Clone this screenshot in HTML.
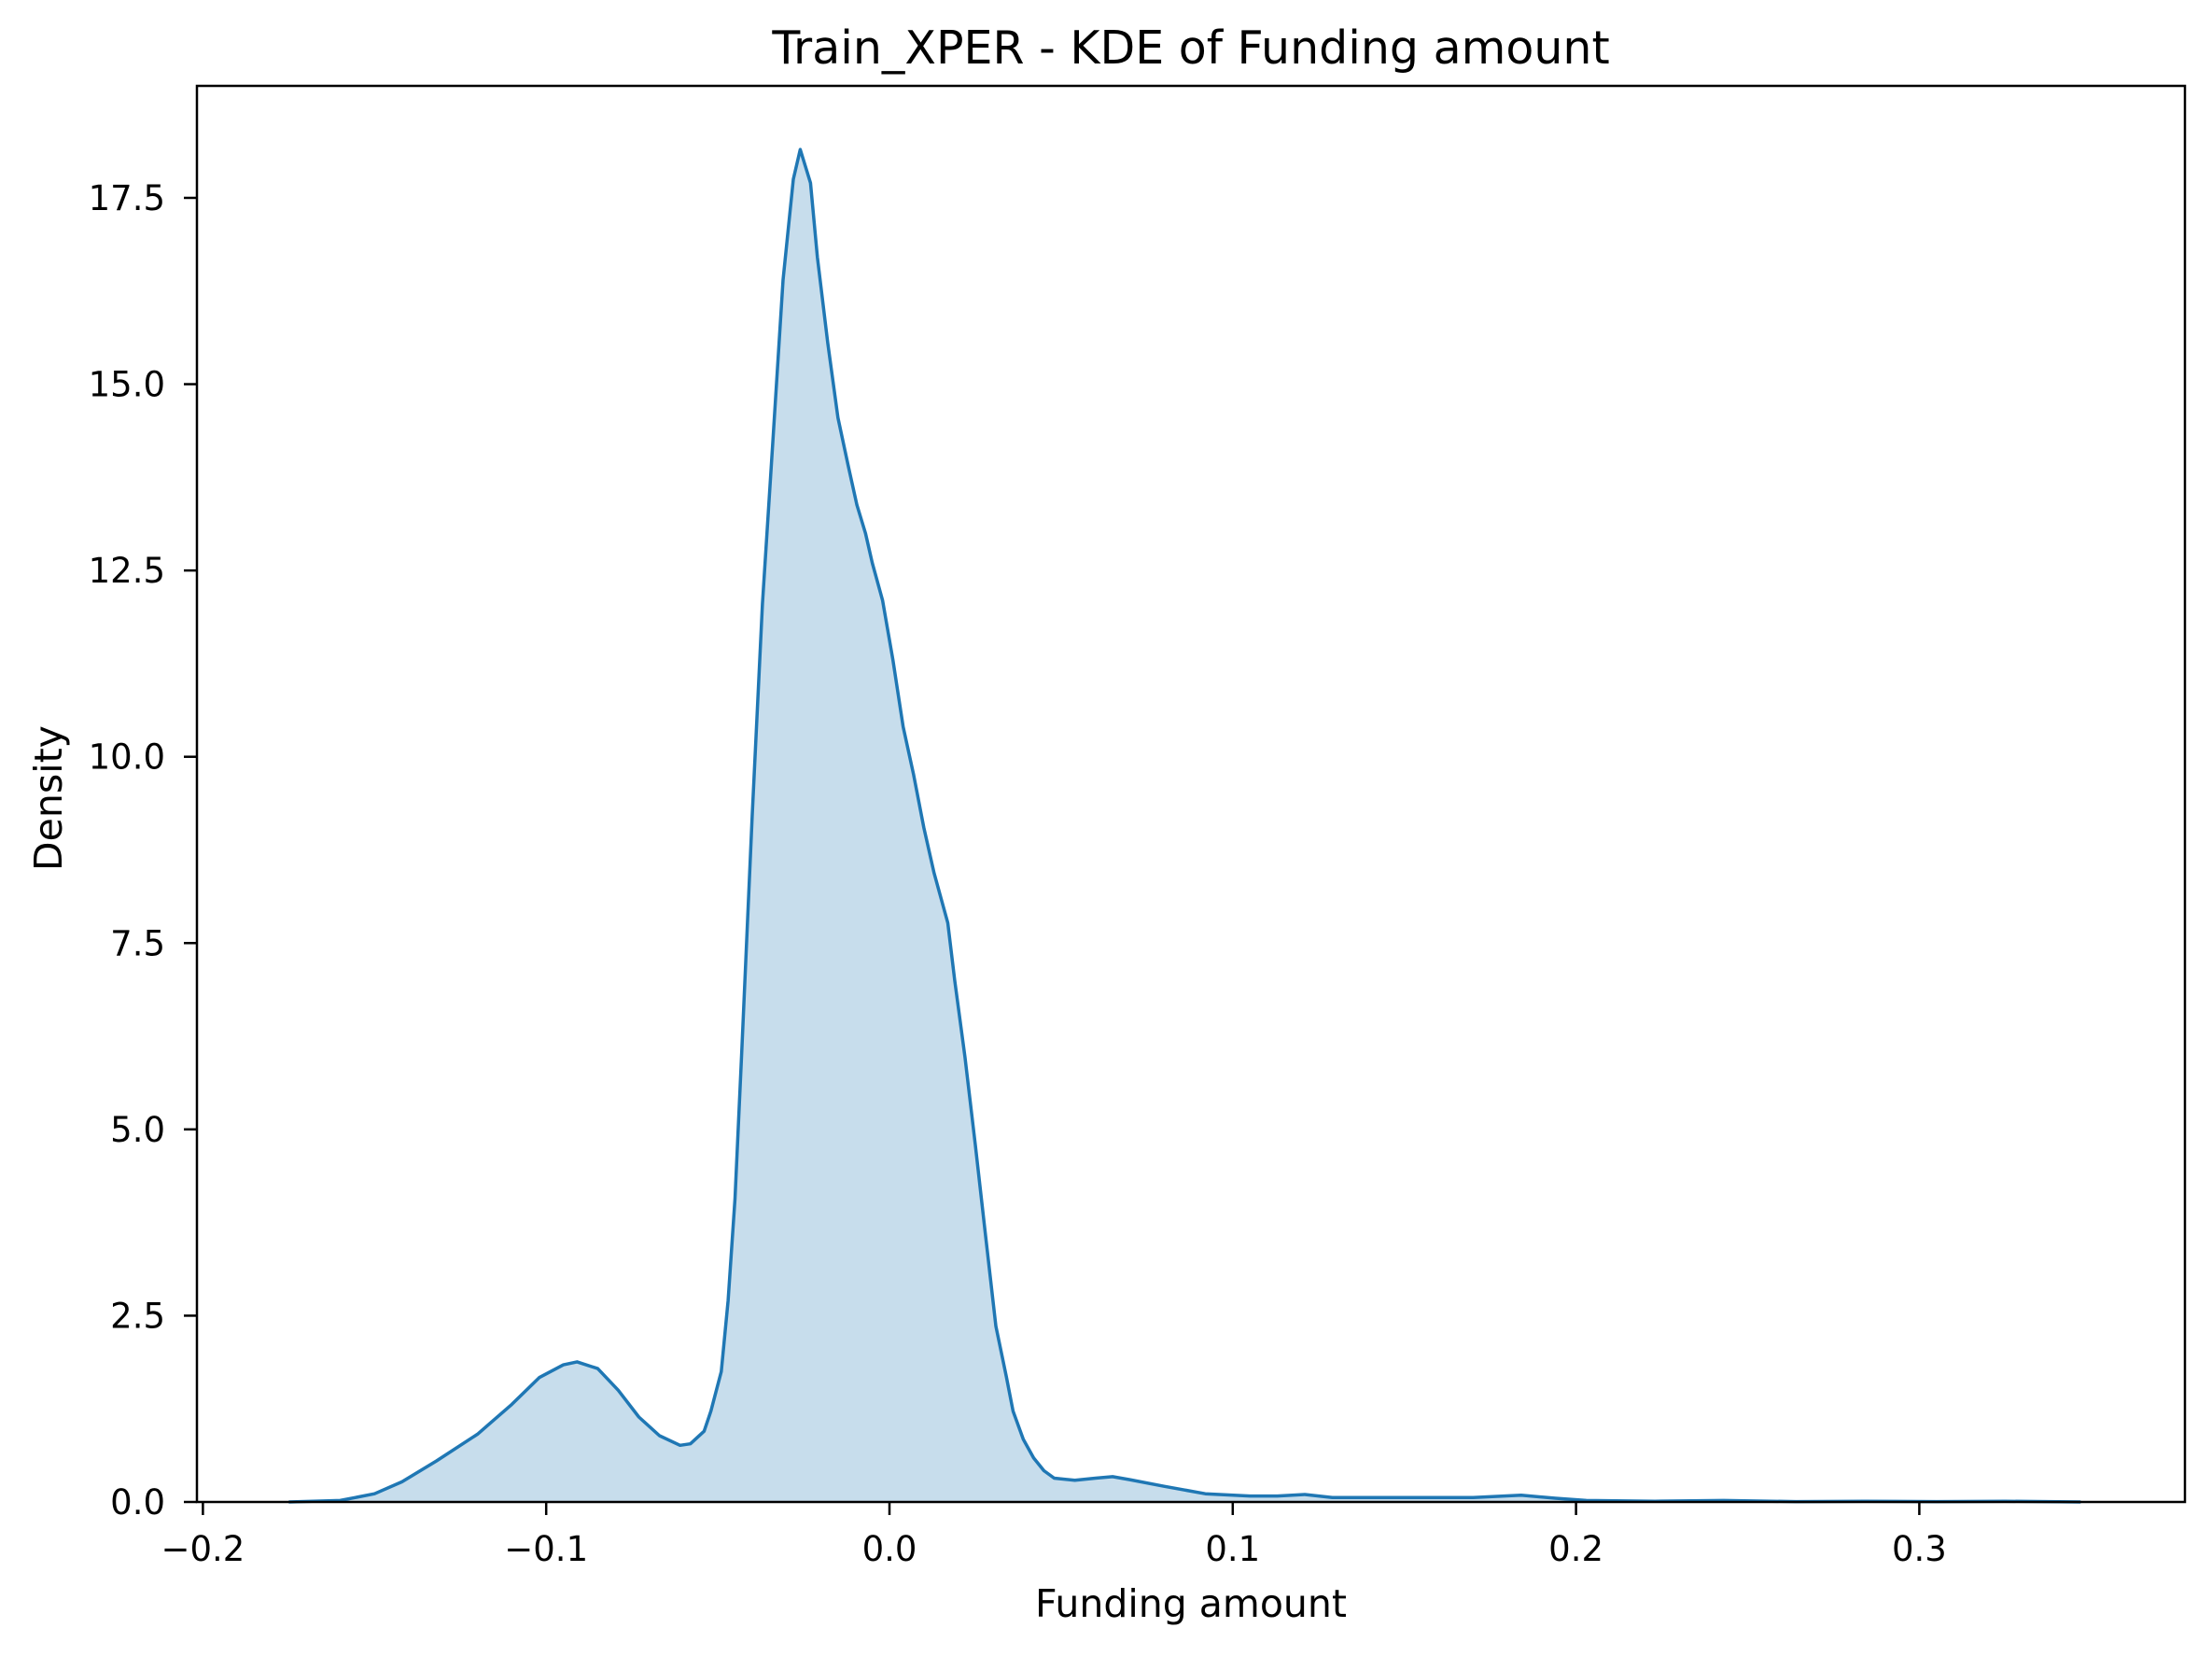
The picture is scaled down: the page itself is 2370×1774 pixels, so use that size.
<!DOCTYPE html>
<html><head><meta charset="utf-8"><style>
body{margin:0;background:#fff}
svg text{font-family:"DejaVu Sans","Liberation Sans",sans-serif;fill:#000}
</style></head><body>
<svg id="chart" width="2370" height="1769" xmlns="http://www.w3.org/2000/svg">
<rect width="2370" height="1769" fill="#fff"/>
<text x="1276" y="68" font-size="49" text-anchor="middle">Train_XPER - KDE of Funding amount</text>
<g id="plot"></g>
<rect x="211" y="92" width="2130" height="1517" fill="none" stroke="#000" stroke-width="2.5"/>
<text x="1276" y="1732" font-size="41" text-anchor="middle">Funding amount</text>
<text x="0" y="0" font-size="41" text-anchor="middle" transform="translate(66,855) rotate(-90)">Density</text>
</svg>
<script>
const xs=[-0.175,-0.160,-0.150,-0.142,-0.132,-0.120,-0.110,-0.102,-0.095,-0.091,-0.085,-0.079,-0.073,-0.067,-0.061,-0.058,-0.054,-0.052,-0.049,-0.047,-0.045,-0.043,-0.040,-0.037,-0.034,-0.031,-0.028,-0.026,-0.023,-0.021,-0.018,-0.015,-0.012,-0.0095,-0.007,-0.005,-0.002,0.001,0.004,0.007,0.010,0.013,0.017,0.019,0.022,0.025,0.028,0.031,0.034,0.036,0.039,0.042,0.045,0.048,0.054,0.060,0.065,0.070,0.080,0.092,0.105,0.113,0.121,0.129,0.150,0.170,0.184,0.194,0.203,0.223,0.243,0.264,0.284,0.305,0.325,0.347];
const density=[0,0.02,0.11,0.27,0.55,0.91,1.31,1.67,1.84,1.88,1.79,1.50,1.14,0.89,0.76,0.78,0.95,1.22,1.75,2.70,4.07,6.06,9.2,12.05,14.2,16.4,17.75,18.15,17.7,16.7,15.56,14.55,13.9,13.38,13.0,12.6,12.1,11.3,10.4,9.77,9.05,8.44,7.77,7.0,5.97,4.79,3.57,2.36,1.69,1.22,0.84,0.59,0.42,0.32,0.29,0.32,0.34,0.30,0.21,0.11,0.08,0.08,0.10,0.06,0.06,0.06,0.09,0.05,0.02,0.01,0.02,0.005,0.01,0.005,0.01,0];
const xTicks=[-0.2,-0.1,0.0,0.1,0.2,0.3];
const xTickLabels=["\u22120.2","\u22120.1","0.0","0.1","0.2","0.3"];
const yTicks=[0,2.5,5,7.5,10,12.5,15,17.5];
const yTickLabels=["0.0","2.5","5.0","7.5","10.0","12.5","15.0","17.5"];

const NS="http://www.w3.org/2000/svg";
const X=v=>953+v*3678;
const Y=v=>1609-v*79.83;
const g=document.getElementById('plot');
function mk(t,a){const e=document.createElementNS(NS,t);for(const k in a)e.setAttribute(k,a[k]);return e;}
let d='';
xs.forEach((x,i)=>{d+=(i?'L':'M')+X(x).toFixed(1)+','+Y(density[i]).toFixed(1);});
const area=mk('path',{d:d+'L'+X(xs[xs.length-1])+','+Y(0)+'L'+X(xs[0])+','+Y(0)+'Z',fill:'#1f77b4','fill-opacity':'0.25',stroke:'none'});


g.appendChild(area);
const line=mk('path',{d:d,fill:'none',stroke:'#1f77b4','stroke-width':'3.5','stroke-linejoin':'round'});


g.appendChild(line);
xTicks.forEach((v,i)=>{
  const t=mk('line',{x1:X(v),x2:X(v),y1:1609,y2:1623,stroke:'#000','stroke-width':'2.5'});
  
  
  g.appendChild(t);
  const l=mk('text',{x:X(v),y:1672,'font-size':'37','text-anchor':'middle'});
  l.textContent=xTickLabels[i];
  
  
  g.appendChild(l);
});
yTicks.forEach((v,i)=>{
  const t=mk('line',{x1:197,x2:211,y1:Y(v),y2:Y(v),stroke:'#000','stroke-width':'2.5'});
  
  
  g.appendChild(t);
  const l=mk('text',{x:177,y:Y(v)+13,'font-size':'37','text-anchor':'end'});
  l.textContent=yTickLabels[i];
  
  
  g.appendChild(l);
});
</script>
</body></html>
